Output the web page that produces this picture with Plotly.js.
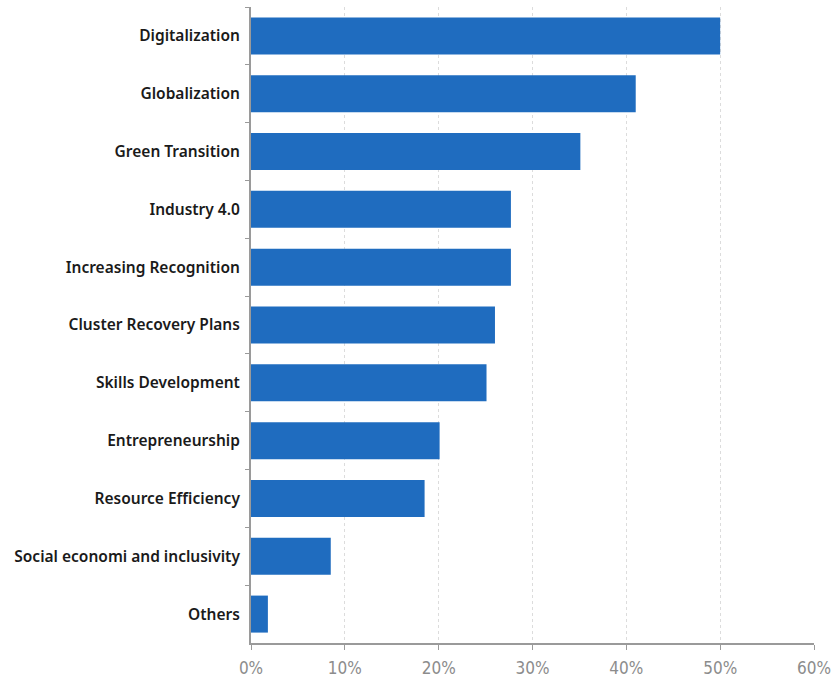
<!DOCTYPE html>
<html>
<head>
<meta charset="utf-8">
<script src="https://cdn.plot.ly/plotly-3.0.1.min.js"></script>
<style>html,body{margin:0;padding:0;background:#fff;}#chart{width:840px;height:687px;}</style>
</head>
<body>
<div id="chart"></div>
<script>
const categories = ["Digitalization","Globalization","Green Transition","Industry 4.0","Increasing Recognition","Cluster Recovery Plans","Skills Development","Entrepreneurship","Resource Efficiency","Social economi and inclusivity","Others"];
const values = [50, 41, 35.1, 27.7, 27.7, 26, 25.1, 20.1, 18.5, 8.5, 1.8];
const xTickVals = [0, 10, 20, 30, 40, 50, 60];
const xTickText = ["0%","10%","20%","30%","40%","50%","60%"];

const trace = {
  type: 'bar',
  orientation: 'h',
  y: categories,
  x: values,
  marker: {color: '#1f6cbf', line: {width: 0}},
  hoverinfo: 'none'
};

const layout = {
  width: 840, height: 687,
  margin: {l: 251, r: 26, t: 7, b: 44},
  paper_bgcolor: '#fff', plot_bgcolor: '#fff',
  bargap: 0.36,
  showlegend: false,
  xaxis: {
    range: [0, 60],
    tickvals: xTickVals,
    ticktext: xTickText,
    showgrid: true,
    gridcolor: '#dcdcdc',
    griddash: 'dot',
    gridwidth: 1,
    zeroline: false,
    showline: true,
    linecolor: '#9a9a9a',
    linewidth: 2,
    ticks: 'outside',
    ticklen: 5,
    tickcolor: '#9a9a9a',
    ticklabelstandoff: 4,
    tickfont: {family: 'DejaVu Sans Condensed', size: 17, color: '#8c8c8c'}
  },
  yaxis: {
    autorange: 'reversed',
    showgrid: false,
    zeroline: false,
    showline: true,
    linecolor: '#9a9a9a',
    linewidth: 2,
    ticks: 'outside',
    tickson: 'boundaries',
    ticklen: 4,
    tickcolor: '#9a9a9a',
    ticklabelstandoff: 6,
    tickfont: {family: 'Noto Sans', size: 15.5, color: '#1a1a1a', weight: 600}
  }
};

Plotly.newPlot('chart', [trace], layout, {staticPlot: true, displayModeBar: false});
</script>
</body>
</html>
